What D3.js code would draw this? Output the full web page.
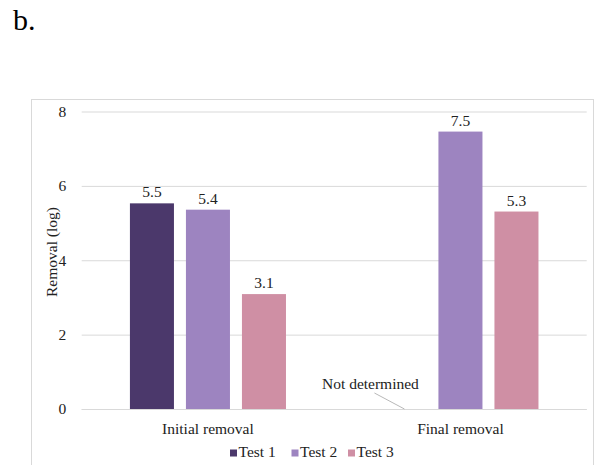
<!DOCTYPE html>
<html>
<head>
<meta charset="utf-8">
<script src="https://cdn.jsdelivr.net/npm/d3@7"></script>
<style>
  html, body { margin: 0; padding: 0; background: #fff; }
  svg { display: block; }
  text { font-family: "Liberation Serif", "Times New Roman", serif; fill: #222; }
</style>
</head>
<body>
<svg id="chart" width="595" height="465"></svg>
<script>
// ---- data ----
const categories = ["Initial removal", "Final removal"];
const seriesNames = ["Test 1", "Test 2", "Test 3"];
const test1Values = [5.53, null];
const test2Values = [5.36, 7.46];
const test3Values = [3.09, 5.31];
const yTicks = [0, 2, 4, 6, 8];
const seriesColors = ["#4b386b", "#9d84c0", "#cf8fa4"];
const panelLabel = "b.";
const yTitle = "Removal (log)";
const missingLabel = "Not determined";

const seriesValues = [test1Values, test2Values, test3Values];

// ---- layout ----
const svg = d3.select("#chart");
const plot = { left: 81.7, right: 586.7, top: 111.5, bottom: 409 };
const FS = "15.5px";

// panel label
svg.append("text").attr("x", 13).attr("y", 30)
  .style("font-size", "30px").style("fill", "#000").text(panelLabel);

// frame
svg.append("rect").attr("x", 31.5).attr("y", 99.5)
  .attr("width", 562).attr("height", 370)
  .attr("fill", "none").attr("stroke", "#d9d9d9").attr("stroke-width", 1);

const x0 = d3.scaleBand().domain(categories).range([plot.left, plot.right]).padding(0);
const x1 = d3.scaleBand().domain(seriesNames).range([0, x0.bandwidth()])
  .paddingInner(0.214).paddingOuter(0.861);
const y = d3.scaleLinear().domain([0, 8]).range([plot.bottom, plot.top]);

// gridlines + y ticks
const yAxis = d3.axisLeft(y).tickValues(yTicks).tickSize(-(plot.right - plot.left)).tickPadding(15.5)
  .tickFormat(d3.format("d"));
const gy = svg.append("g").attr("transform", `translate(${plot.left},0)`).call(yAxis);
gy.select(".domain").remove();
gy.selectAll(".tick line").attr("stroke", "#d9d9d9").attr("stroke-width", 1);
gy.selectAll(".tick text").style("font-size", FS).attr("fill", "#333");

// y title
svg.append("text")
  .attr("transform", `translate(57,252) rotate(-90)`)
  .attr("text-anchor", "middle")
  .style("font-size", FS).text(yTitle);

// bars
const rows = [];
categories.forEach((c, ci) => {
  seriesNames.forEach((s, si) => {
    rows.push({ cat: c, series: s, si, value: seriesValues[si][ci] });
  });
});

svg.append("g").selectAll("rect").data(rows.filter(d => d.value != null)).join("rect")
  .attr("x", d => x0(d.cat) + x1(d.series))
  .attr("y", d => y(d.value))
  .attr("width", x1.bandwidth())
  .attr("height", d => y(0) - y(d.value))
  .attr("fill", d => seriesColors[d.si]);

// data labels
svg.append("g").selectAll("text").data(rows.filter(d => d.value != null)).join("text")
  .attr("x", d => x0(d.cat) + x1(d.series) + x1.bandwidth() / 2)
  .attr("y", d => y(d.value) - 6)
  .attr("text-anchor", "middle")
  .style("font-size", FS)
  .text(d => d.value.toFixed(1));

// baseline
svg.append("line").attr("x1", plot.left).attr("x2", plot.right)
  .attr("y1", y(0) + 0.5).attr("y2", y(0) + 0.5)
  .attr("stroke", "#d9d9d9").attr("stroke-width", 1);

// "Not determined" callout for missing value
rows.filter(d => d.value == null).forEach(d => {
  const px = x0(d.cat) + x1(d.series) + x1.bandwidth() / 2;
  const py = y(0);
  svg.append("line").attr("x1", px).attr("y1", py)
    .attr("x2", px - 30).attr("y2", py - 16)
    .attr("stroke", "#a6a6a6").attr("stroke-width", 0.8);
  svg.append("text").attr("x", px - 34).attr("y", py - 20)
    .attr("text-anchor", "middle").style("font-size", FS).text(missingLabel);
});

// category labels
svg.append("g").selectAll("text").data(categories).join("text")
  .attr("x", d => x0(d) + x0.bandwidth() / 2)
  .attr("y", 434)
  .attr("text-anchor", "middle")
  .style("font-size", FS)
  .text(d => d);

// legend
const legendX = [230, 291.5, 348];
const lg = svg.append("g");
seriesNames.forEach((s, i) => {
  lg.append("rect").attr("x", legendX[i]).attr("y", 449.5).attr("width", 7).attr("height", 7)
    .attr("fill", seriesColors[i]);
  lg.append("text").attr("x", legendX[i] + 8.5).attr("y", 457)
    .style("font-size", FS).text(s);
});
</script>
</body>
</html>
